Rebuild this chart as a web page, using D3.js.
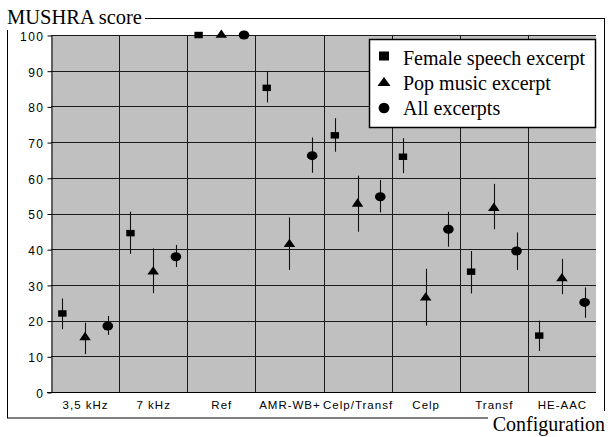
<!DOCTYPE html>
<html>
<head>
<meta charset="UTF-8">
<title>MUSHRA score</title>
<script src="https://d3js.org/d3.v7.min.js"></script>
<style>
  body { margin: 0; background: #fff; }
  svg { display: block; }
</style>
</head>
<body>
<div id="chart"></div>
<script>
// categories (configurations) and series
var categories = ["3,5 kHz", "7 kHz", "Ref", "AMR-WB+", "Celp/Transf", "Celp", "Transf", "HE-AAC"];
var series = ["Female speech excerpt", "Pop music excerpt", "All excerpts"];
var yTicks = [0, 10, 20, 30, 40, 50, 60, 70, 80, 90, 100];

// mean scores and confidence interval ends
var female     = [22.0, 44.5, 100, 85.2, 71.9, 65.9, 33.7, 15.8];
var femaleLow  = [17.6, 38.7, 100, 81.1, 67.3, 61.3, 27.6, 11.5];
var femaleHigh = [26.2, 50.5, 100, 89.9, 76.7, 71.1, 39.5, 20.0];
var pop        = [15.3, 33.7, 100, 41.4, 52.7, 26.4, 51.5, 31.8];
var popLow     = [10.6, 27.7, 100, 34.2, 44.9, 18.6, 45.6, 27.4];
var popHigh    = [19.4, 40.2, 100, 48.9, 60.6, 34.5, 58.3, 37.3];
var all        = [18.5, 37.9, 100, 66.2, 54.7, 45.6, 39.5, 25.1];
var allLow     = [16.0, 35.0, 100, 61.4, 50.3, 40.7, 34.2, 20.8];
var allHigh    = [21.3, 41.2, 100, 71.3, 59.4, 50.5, 44.7, 29.3];

var chartW = 608, chartH = 437;
var plotL = 51, plotR = 596, plotT = 35, plotB = 392;

var svg = d3.select("#chart").append("svg")
    .attr("width", chartW)
    .attr("height", chartH);

// outer frame
svg.append("rect")
    .attr("x", 7.5).attr("y", 18.5)
    .attr("width", 597).attr("height", 399.5)
    .attr("fill", "none").attr("stroke", "#000").attr("stroke-width", 1);

var x = d3.scaleBand().domain(categories).range([plotL, plotR]);
var inner = d3.scalePoint().domain(series).range([0, x.bandwidth()]).padding(0.5);
var y = d3.scaleLinear().domain([0, 100]).range([plotB, plotT]);

// plot area
svg.append("rect")
    .attr("x", plotL).attr("y", plotT)
    .attr("width", plotR - plotL).attr("height", plotB - plotT)
    .attr("fill", "#c0c0c0");

// horizontal grid
svg.append("g").selectAll("line")
    .data(yTicks.filter(function(d){ return d > 0; }))
    .enter().append("line")
    .attr("x1", plotL).attr("x2", plotR)
    .attr("y1", function(d){ return Math.round(y(d)) + 0.5; })
    .attr("y2", function(d){ return Math.round(y(d)) + 0.5; })
    .attr("stroke", "#1a1a1a").attr("stroke-width", 1);

// vertical grid between categories
svg.append("g").selectAll("line")
    .data(categories.slice(1))
    .enter().append("line")
    .attr("x1", function(d){ return Math.round(x(d)) + 0.5; })
    .attr("x2", function(d){ return Math.round(x(d)) + 0.5; })
    .attr("y1", plotT).attr("y2", plotB)
    .attr("stroke", "#1a1a1a").attr("stroke-width", 1);

// y axis
var yAxis = d3.axisLeft(y).tickValues(yTicks).tickSize(4).tickSizeOuter(0);
var gy = svg.append("g")
    .attr("transform", "translate(" + (plotL + 0.5) + ",0.5)")
    .call(yAxis);
gy.select(".domain").attr("stroke", "#000");
gy.selectAll(".tick line").attr("stroke", "#000");
gy.selectAll(".tick text")
    .attr("x", -7)
    .attr("dy", "0.4em")
    .attr("fill", "#000")
    .style("font-family", "'Liberation Sans', Arial, sans-serif")
    .style("font-size", "12px")
    .style("letter-spacing", "1.5px");

// x axis
var xAxis = d3.axisBottom(x).tickSize(0).tickSizeOuter(0);
var gx = svg.append("g")
    .attr("transform", "translate(0," + (plotB + 0.5) + ")")
    .call(xAxis);
gx.select(".domain").attr("stroke", "#000").attr("d", "M" + (plotL - 4) + ",0H" + plotR);
gx.selectAll(".tick text")
    .attr("y", 8)
    .attr("dx", "0.5px")
    .attr("dy", "0.71em")
    .attr("fill", "#000")
    .style("font-family", "'Liberation Sans', Arial, sans-serif")
    .style("font-size", "11.5px")
    .style("letter-spacing", "1px");

// series drawing
var seriesData = [
    {name: series[0], mean: female, low: femaleLow, high: femaleHigh, shape: d3.symbolSquare, size: 49, sx: 1.2, sy: 0.92},
    {name: series[1], mean: pop, low: popLow, high: popHigh, shape: d3.symbolTriangle, size: 40, sx: 1.2, sy: 1},
    {name: series[2], mean: all, low: allLow, high: allHigh, shape: d3.symbolCircle, size: 64, sx: 1.18, sy: 1}
];

seriesData.forEach(function(s){
    var g = svg.append("g");
    var cx = function(d, i){ return x(categories[i]) + inner(s.name); };

    g.selectAll("line")
        .data(s.mean)
        .enter().append("line")
        .attr("x1", function(d, i){ return Math.round(cx(d, i)) + 0.5; })
        .attr("x2", function(d, i){ return Math.round(cx(d, i)) + 0.5; })
        .attr("y1", function(d, i){ return y(s.low[i]); })
        .attr("y2", function(d, i){ return y(s.high[i]); })
        .attr("stroke", "#111").attr("stroke-width", 1.1);

    g.selectAll("path")
        .data(s.mean)
        .enter().append("path")
        .attr("d", d3.symbol().type(s.shape).size(s.size))
        .attr("transform", function(d, i){
            return "translate(" + cx(d, i) + "," + y(d) + ") scale(" + s.sx + "," + s.sy + ")";
        })
        .attr("fill", "#000");
});

// legend
var legend = svg.append("g");
legend.append("rect")
    .attr("x", 369.5).attr("y", 39.5)
    .attr("width", 226).attr("height", 88)
    .attr("fill", "#fff").attr("stroke", "#000").attr("stroke-width", 1.5);

var legendMarks = [
    {shape: d3.symbolSquare, size: 90, sx: 1.05, sy: 0.95, cy: 56},
    {shape: d3.symbolTriangle, size: 47, sx: 1.25, sy: 1, cy: 83},
    {shape: d3.symbolCircle, size: 85, sx: 1.05, sy: 1, cy: 108}
];
series.forEach(function(name, i){
    var m = legendMarks[i];
    legend.append("path")
        .attr("d", d3.symbol().type(m.shape).size(m.size))
        .attr("transform", "translate(384," + m.cy + ") scale(" + m.sx + "," + m.sy + ")")
        .attr("fill", "#000");
    legend.append("text")
        .attr("x", 403).attr("y", 65 + i * 25)
        .style("font-family", "'Liberation Serif', 'Times New Roman', serif")
        .style("font-size", "20px")
        .attr("fill", "#000")
        .text(name);
});

// axis titles, with white background over the frame
svg.append("rect").attr("x", 0).attr("y", 0).attr("width", 145).attr("height", 30).attr("fill", "#fff");
svg.append("text")
    .attr("x", 7).attr("y", 24)
    .style("font-family", "'Liberation Serif', 'Times New Roman', serif")
    .style("font-size", "20.5px")
    .attr("fill", "#000")
    .text("MUSHRA score");

svg.append("rect").attr("x", 488).attr("y", 411).attr("width", 120).attr("height", 26).attr("fill", "#fff");
svg.append("text")
    .attr("x", 605).attr("y", 431)
    .attr("text-anchor", "end")
    .style("font-family", "'Liberation Serif', 'Times New Roman', serif")
    .style("font-size", "20px")
    .attr("fill", "#000")
    .text("Configuration");
</script>
</body>
</html>
